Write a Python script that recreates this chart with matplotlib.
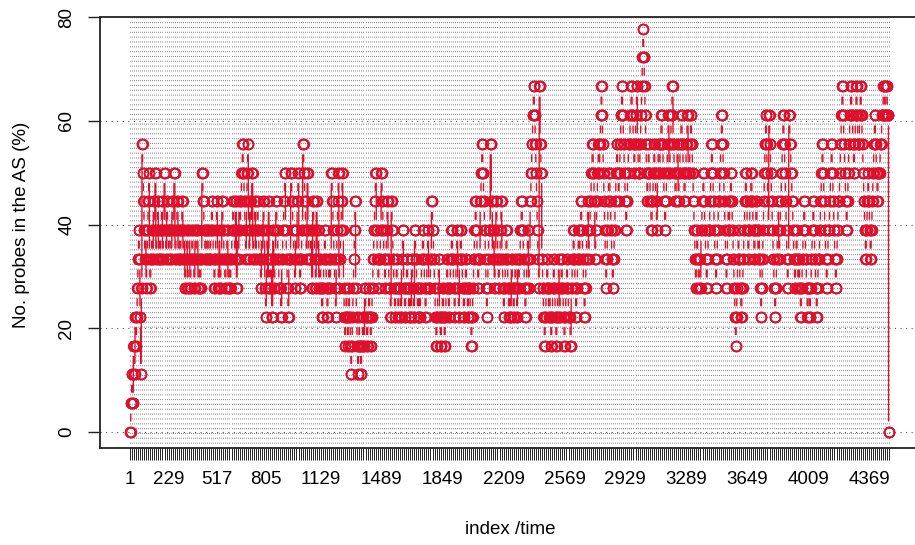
import numpy as np
import matplotlib
matplotlib.use("Agg")
import matplotlib.pyplot as plt
from matplotlib.collections import LineCollection

# ---------------- data ----------------
N_PROBES = 18            # values are counts of probes out of 18, shown in %
BLOCK_LEN = 59           # measurements per block
# probe counts visited, in order, within each consecutive block of measurements
BLOCKS = [
    "0 1 2 1 3 2 4 3 4 5 6 7 6",
    "4 2 5 10 9 8 7 6 7 5 6 7 8 9 6",
    "5 6 7 6 8 7 9 6 7 8 6 7",
    "6 7 8 6 7 9 7 6 8 7 6 7",
    "7 6 8 7 9 6 7 8 6 7",
    "6 7 8 6 7 5 6 7 5 6 7",
    "5 6 7 6 5 7 6 7 5 6",
    "5 6 9 8 7 6 7 6 7 6",
    "6 7 8 7 6 5 6 7 8 6 5 7",
    "5 6 8 7 6 5 6 7 5 6",
    "5 6 7 8 7 6 8 5 7 6 8",
    "7 8 9 10 9 8 7 6 8 9 10 7 6",
    "8 7 9 6 7 8 6 7 8 7 6",
    "6 5 7 6 8 7 5 4 6 7 5 8 6",
    "5 6 4 7 5 6 8 7 6 5",
    "5 4 6 7 8 9 7 6 5 4 6",
    "6 9 8 7 6 5 7 6 8 9 6",
    "5 6 7 10 9 8 7 6 9 7 6",
    "6 7 5 8 7 6 5 8 6 7 5",
    "6 5 4 5 6 7 6 5 4 5 6",
    "5 6 9 8 7 6 5 4 6 7 8 9 5",
    "6 7 8 9 7 5 4 3 4 5 4 3 4 5",
    "4 3 2 3 4 5 6 7 8 5 4 3 2 3 4",
    "3 2 3 4 3 5 4 3 4 5",
    "4 3 4 5 6 7 8 9 7 6 5 6",
    "6 7 9 8 7 6 5 6 7 8 6 5",
    "5 4 8 7 6 5 4 5 6 5 4 5",
    "5 4 6 7 5 4 5 6 5 4",
    "5 4 6 5 4 7 6 5 4 5",
    "4 5 6 7 6 5 4 5 6 7 5",
    "5 6 8 7 6 5 4 3 4 5 6",
    "4 3 4 5 4 3 4 5 6 5 4",
    "5 6 7 6 5 4 5 6 7 5 4",
    "6 7 6 5 4 5 6 5 4 5",
    "5 4 3 4 5 6 7 8 7 6 5 6",
    "6 8 9 10 9 8 7 6 5 4 5 6 7",
    "7 10 8 6 7 5 6 8 7 6 5",
    "6 7 8 6 5 4 5 6 7 6 5 4",
    "5 4 6 5 4 5 6 5 4 6 5",
    "6 7 8 7 6 5 4 5 6 7 5",
    "6 8 9 10 11 12 11 10 9 8 7 6 5",
    "12 10 9 6 5 4 3 4 5 6 5 4",
    "5 4 3 4 5 6 5 4 3 4 5 6",
    "4 5 6 5 4 3 4 5 6 5 4",
    "4 3 5 6 7 6 5 4 5 6 7",
    "6 7 8 7 6 5 4 5 6 7 8 6",
    "7 8 9 10 9 8 6 7 8 9 10",
    "9 10 11 12 11 10 9 8 7 6 5 6 7 8 9",
    "9 8 7 6 5 6 7 8 9 10 9 8",
    "9 10 11 12 11 10 9 8 7 8 9 10",
    "10 11 12 11 10 9 10 11 12 10 9",
    "9 10 11 12 13 14 13 12 11 10 9 8 9 10",
    "9 8 7 8 9 10 9 8 7 9 10",
    "9 10 11 10 9 8 7 8 9 10 11",
    "9 10 11 12 10 9 8 9 10 8",
    "9 10 11 10 9 8 9 10 11 9",
    "9 10 11 10 9 8 7 6 5 6 7 6 5",
    "6 5 7 8 9 8 7 6 5 6 7",
    "7 8 9 10 9 8 7 6 5 6 7 8",
    "8 9 10 11 10 9 8 7 6 5 6 7 8",
    "7 8 9 8 7 6 5 4 3 4 5 6 7",
    "6 5 4 5 6 7 8 9 8 7 6",
    "7 8 9 8 7 6 7 8 7 6",
    "7 6 5 4 5 6 7 8 9 10 11 10 9 8 7",
    "11 10 9 8 7 6 5 4 5 6 7 8",
    "6 7 8 9 10 11 10 9 8 7 6 5 6",
    "11 10 9 8 7 6 5 6 7 6 5",
    "6 5 4 5 6 7 8 7 6 5 4 5",
    "5 4 5 6 7 8 7 6 5 4 5 6",
    "6 7 8 9 10 9 8 7 6 5 6 7",
    "7 8 9 10 9 8 7 6 5 6 7 8",
    "8 9 10 11 12 11 10 9 8 7 8 9",
    "10 11 12 11 10 9 10 11 12 11 10",
    "10 11 12 11 10 9 8 7 6 7 8 9",
    "8 7 6 7 8 9 10 11 10 9 8 9",
    "9 10 11 12 11 12 11",
]
TAIL = [0, 0, 0, 0, 0, 0]   # last measurements
TICK_STEP = 12
TICK_LABELS = [1, 229, 517, 805, 1129, 1489, 1849, 2209, 2569, 2929, 3289,
               3649, 4009, 4369]
Y_TICKS = [0, 20, 40, 60, 80]
X_LABEL = "index /time"
Y_LABEL = "No. probes in the AS (%)"

# ---------------- expand blocks into the series ----------------
counts = []
for blk in BLOCKS:
    levels = [int(v) for v in blk.split()]
    parts = np.array_split(np.arange(BLOCK_LEN), len(levels))
    for lev, p in zip(levels, parts):
        counts.extend([lev] * len(p))
counts.extend(TAIL)
counts = np.array(counts, dtype=float)
y = counts / N_PROBES * 100.0
N = len(y)
x = np.arange(1, N + 1)

RED = "#E0102C"

# ---------------- figure ----------------
W, H = 915, 545
fig = plt.figure(figsize=(W / 100, H / 100), dpi=100)
plt.rcParams["font.family"] = ["Liberation Sans", "DejaVu Sans"]

xl0 = 1 - 0.04 * (N - 1)
xl1 = N + 0.04 * (N - 1)
px_per_x = (869 - 130) / (4369 - 1)
left_px = 130 - (1 - xl0) * px_per_x
right_px = 130 + (xl1 - 1) * px_per_x
top_px, bot_px = 17, 448
ax = fig.add_axes([left_px / W, (H - bot_px) / H,
                   (right_px - left_px) / W, (bot_px - top_px) / H])
ax.set_xlim(xl0, xl1)
ylo, yhi = -3.08, 80.0
ax.set_ylim(ylo, yhi)

ticks = np.arange(1, N + 1, TICK_STEP)

# vertical dotted lines at every tick
ax.vlines(ticks, ylo, yhi, colors="#7a7a7a", linewidth=0.6,
          linestyles=[(0, (1.3, 4.5))], zorder=1)
# horizontal dotted grid at y ticks
for yt in Y_TICKS[:-1]:
    ax.axhline(yt, color="#555555", linewidth=0.8, linestyle=(0, (1, 4)),
               zorder=1)

# points
ax.plot(x, y, linestyle="none", marker="o", markersize=7.2,
        markerfacecolor="none", markeredgecolor=RED, markeredgewidth=1.0,
        zorder=3)

# lines with gaps at the points (like type = "b")
fig.canvas.draw()
disp = ax.transData.transform(np.column_stack([x, y]))
p1 = disp[:-1]
p2 = disp[1:]
d = p2 - p1
L = np.hypot(d[:, 0], d[:, 1])
gap = 10.5 * fig.dpi / 100
keep = L > 2 * gap
u = d[keep] / L[keep][:, None]
q1 = p1[keep] + u * gap
q2 = p2[keep] - u * gap
inv = ax.transData.inverted()
q1d = inv.transform(q1)
q2d = inv.transform(q2)
segs = np.stack([q1d, q2d], axis=1)
ax.add_collection(LineCollection(segs, colors=RED, linewidths=1.0, zorder=2))

# axes styling
for s in ["left", "bottom", "top", "right"]:
    ax.spines[s].set_linewidth(1.3)
    ax.spines[s].set_color("#222222")

ax.set_xticks(ticks)
lab_set = set(TICK_LABELS)
ax.set_xticklabels([str(t) if t in lab_set else "" for t in ticks])
ax.tick_params(axis="x", length=8.6, width=0.7, color="#222222",
               labelsize=13.5, pad=8)
ax.set_yticks(Y_TICKS)
ax.set_yticklabels([str(v) for v in Y_TICKS], rotation=90, va="center")
ax.tick_params(axis="y", length=8.6, width=1.0, color="#222222",
               labelsize=13.5, pad=9)

fig.text(510 / W, 1 - 530 / H, X_LABEL, ha="center", va="center", fontsize=13.5)
fig.text(22 / W, 1 - 225 / H, Y_LABEL, ha="center", va="center",
         rotation=90, fontsize=13.5)

fig.savefig("out.png", dpi=100)
